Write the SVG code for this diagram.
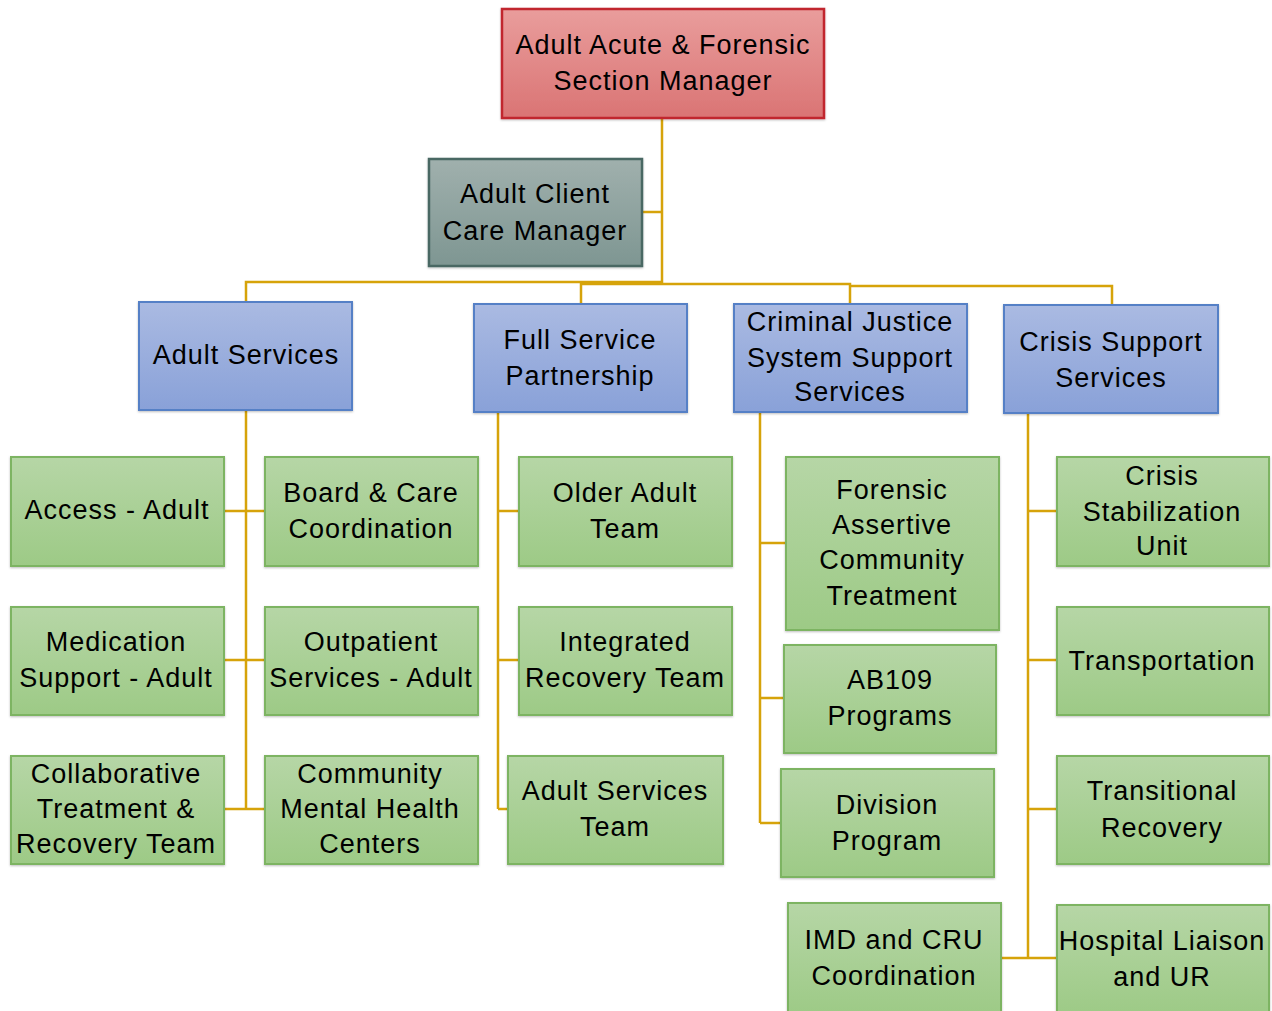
<svg xmlns="http://www.w3.org/2000/svg" width="1272" height="1011" viewBox="0 0 1272 1011">
<defs>
<linearGradient id="gRed" x1="0" y1="0" x2="0" y2="1"><stop offset="0" stop-color="#e99d9c"/><stop offset="1" stop-color="#da7474"/></linearGradient>
<linearGradient id="gGray" x1="0" y1="0" x2="0" y2="1"><stop offset="0" stop-color="#a0b0ad"/><stop offset="1" stop-color="#7e9692"/></linearGradient>
<linearGradient id="gBlue" x1="0" y1="0" x2="0" y2="1"><stop offset="0" stop-color="#aabae2"/><stop offset="1" stop-color="#89a1d8"/></linearGradient>
<linearGradient id="gGreen" x1="0" y1="0" x2="0" y2="1"><stop offset="0" stop-color="#b6d6a6"/><stop offset="1" stop-color="#9dca86"/></linearGradient>
<filter id="sh" x="-5%" y="-5%" width="110%" height="110%"><feDropShadow dx="0" dy="1" stdDeviation="1" flood-color="#000" flood-opacity="0.25"/></filter>
</defs>
<style>
text{font-family:"Liberation Sans",Arial,sans-serif;font-size:27px;fill:#000;text-anchor:middle;letter-spacing:1px}
.red{fill:url(#gRed);stroke:#c1272d;stroke-width:2.5}
.gray{fill:url(#gGray);stroke:#4a6863;stroke-width:2.5}
.blue{fill:url(#gBlue);stroke:#5580c6;stroke-width:2}
.green{fill:url(#gGreen);stroke:#7db462;stroke-width:2}
rect{filter:url(#sh)}
.c{fill:none;stroke:#d6a30a;stroke-width:2.5}
</style>
<g id="connectors">
<path class="c" d="M662 118V284"/>
<path class="c" d="M642 212H662"/>
<path class="c" d="M246 302V282H662"/>
<path class="c" d="M581 304V284H850V304"/>
<path class="c" d="M850 286H1112V305"/>
<path class="c" d="M246 410V809"/>
<path class="c" d="M224 511H265M224 660H265M224 809H265"/>
<path class="c" d="M498 412V809"/>
<path class="c" d="M498 511H519M498 660H519M498 809H508"/>
<path class="c" d="M760 412V823"/>
<path class="c" d="M760 543H786M760 698H784M760 823H781"/>
<path class="c" d="M1028 413V958"/>
<path class="c" d="M1028 511H1057M1028 660H1057M1028 809H1057M1001 958H1057"/>
</g>
<g id="n-top"><rect class="red" x="502" y="9" width="322" height="109"/><text x="663" y="54">Adult Acute &amp; Forensic</text><text x="663" y="90">Section Manager</text></g>
<g id="n-client"><rect class="gray" x="429" y="159" width="213" height="107"/><text x="535" y="203">Adult Client</text><text x="535" y="240">Care Manager</text></g>
<g id="n-adult"><rect class="blue" x="139" y="302" width="213" height="108"/><text x="246" y="364">Adult Services</text></g>
<g id="n-fsp"><rect class="blue" x="474" y="304" width="213" height="108"/><text x="580" y="349">Full Service</text><text x="580" y="385">Partnership</text></g>
<g id="n-cj"><rect class="blue" x="734" y="304" width="233" height="108"/><text x="850" y="331">Criminal Justice</text><text x="850" y="367">System Support</text><text x="850" y="401">Services</text></g>
<g id="n-crisis"><rect class="blue" x="1004" y="305" width="214" height="108"/><text x="1111" y="351">Crisis Support</text><text x="1111" y="387">Services</text></g>
<g id="n-access"><rect class="green" x="11" y="457" width="213" height="109"/><text x="117" y="519">Access - Adult</text></g>
<g id="n-med"><rect class="green" x="11" y="607" width="213" height="108"/><text x="116" y="651">Medication</text><text x="116" y="687">Support - Adult</text></g>
<g id="n-collab"><rect class="green" x="11" y="756" width="213" height="108"/><text x="116" y="783">Collaborative</text><text x="116" y="818">Treatment &amp;</text><text x="116" y="853">Recovery Team</text></g>
<g id="n-board"><rect class="green" x="265" y="457" width="213" height="109"/><text x="371" y="502">Board &amp; Care</text><text x="371" y="538">Coordination</text></g>
<g id="n-outp"><rect class="green" x="265" y="607" width="213" height="108"/><text x="371" y="651">Outpatient</text><text x="371" y="687">Services - Adult</text></g>
<g id="n-cmhc"><rect class="green" x="265" y="756" width="213" height="108"/><text x="370" y="783">Community</text><text x="370" y="818">Mental Health</text><text x="370" y="853">Centers</text></g>
<g id="n-older"><rect class="green" x="519" y="457" width="213" height="109"/><text x="625" y="502">Older Adult</text><text x="625" y="538">Team</text></g>
<g id="n-irt"><rect class="green" x="519" y="607" width="213" height="108"/><text x="625" y="651">Integrated</text><text x="625" y="687">Recovery Team</text></g>
<g id="n-ast"><rect class="green" x="508" y="756" width="215" height="108"/><text x="615" y="800">Adult Services</text><text x="615" y="836">Team</text></g>
<g id="n-fact"><rect class="green" x="786" y="457" width="213" height="173"/><text x="892" y="499">Forensic</text><text x="892" y="534">Assertive</text><text x="892" y="569">Community</text><text x="892" y="605">Treatment</text></g>
<g id="n-ab109"><rect class="green" x="784" y="645" width="212" height="108"/><text x="890" y="689">AB109</text><text x="890" y="725">Programs</text></g>
<g id="n-div"><rect class="green" x="781" y="769" width="213" height="108"/><text x="887" y="814">Division</text><text x="887" y="850">Program</text></g>
<g id="n-imd"><rect class="green" x="788" y="903" width="213" height="112"/><text x="894" y="949">IMD and CRU</text><text x="894" y="985">Coordination</text></g>
<g id="n-csu"><rect class="green" x="1057" y="457" width="212" height="109"/><text x="1162" y="485">Crisis</text><text x="1162" y="521">Stabilization</text><text x="1162" y="555">Unit</text></g>
<g id="n-trans"><rect class="green" x="1057" y="607" width="212" height="108"/><text x="1162" y="670">Transportation</text></g>
<g id="n-tr"><rect class="green" x="1057" y="756" width="212" height="108"/><text x="1162" y="800">Transitional</text><text x="1162" y="837">Recovery</text></g>
<g id="n-hosp"><rect class="green" x="1057" y="905" width="212" height="110"/><text x="1162" y="950">Hospital Liaison</text><text x="1162" y="986">and UR</text></g>
</svg>
